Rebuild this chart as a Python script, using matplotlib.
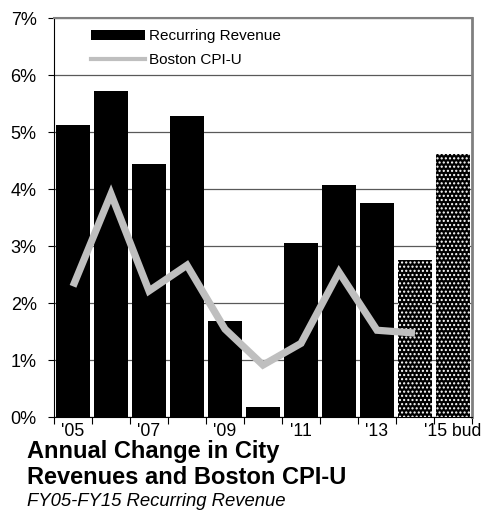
import matplotlib
matplotlib.use("Agg")
import matplotlib.pyplot as plt
from matplotlib.patches import Patch
from matplotlib.lines import Line2D

plt.rcParams['font.family'] = ['Liberation Sans', 'DejaVu Sans']
plt.rcParams['hatch.linewidth'] = 1.0

# Fiscal years FY05..FY15 (FY14 and FY15 budget shown hatched)
years = ['FY05', 'FY06', 'FY07', 'FY08', 'FY09', 'FY10', 'FY11', 'FY12', 'FY13', 'FY14', 'FY15']
recurring_revenue = [5.13, 5.73, 4.45, 5.29, 1.69, 0.19, 3.06, 4.07, 3.76, 2.76, 4.62]
boston_cpi = [2.30, 3.92, 2.22, 2.67, 1.55, 0.92, 1.30, 2.55, 1.53, 1.48]
hatched = [False] * 9 + [True, True]
tick_labels = ["'05", "'07", "'09", "'11", "'13", "'15 bud"]
tick_label_idx = [0, 2, 4, 6, 8, 10]

fig = plt.figure(figsize=(4.83, 5.19), dpi=100)
ax = fig.add_axes([0.1118, 0.1956, 0.8654, 0.7691])

x = list(range(len(years)))
ax.bar(x, recurring_revenue, width=0.89, color='black', linewidth=0, zorder=2)
hx = [i for i, h in zip(x, hatched) if h]
hv = [v for v, h in zip(recurring_revenue, hatched) if h]
ax.bar(hx, hv, width=0.89, facecolor='none', edgecolor='white', hatch='....',
       linewidth=0, zorder=3)

ax.plot(x[:len(boston_cpi)], boston_cpi, color='#bfbfbf', linewidth=5.2,
        solid_joinstyle='miter', solid_capstyle='butt', zorder=4)

ax.set_xlim(-0.5, len(years) - 0.5)
ax.set_ylim(0, 7)
ax.set_yticks(range(0, 8))
ax.set_yticklabels([f'{v}%' for v in range(0, 8)], fontsize=13)
ax.yaxis.grid(True, color='#595959', linewidth=0.9, zorder=0)
ax.set_axisbelow(True)

ax.set_xticks([i - 0.5 for i in range(len(years) + 1)])
ax.set_xticklabels([])
ax.set_xticks(tick_label_idx, minor=True)
ax.set_xticklabels(tick_labels, minor=True, fontsize=12.7)
ax.tick_params(axis='x', which='major', length=5, width=0.8, direction='out')
ax.tick_params(axis='x', which='minor', length=0, pad=4)
ax.tick_params(axis='y', length=4, width=0.8, direction='out', pad=8.5)

ax.spines['left'].set_color('black')
ax.spines['bottom'].set_color('black')
ax.spines['top'].set_color('#808080')
ax.spines['right'].set_color('#808080')
ax.spines['top'].set_linewidth(1.5)
ax.spines['right'].set_linewidth(2)

handles = [Patch(facecolor='black', edgecolor='none'),
           Line2D([0], [0], color='#bfbfbf', linewidth=3)]
ax.legend(handles, ['Recurring Revenue', 'Boston CPI-U'], loc='upper left',
          bbox_to_anchor=(0.088, 0.972), frameon=False, fontsize=11,
          handlelength=3.53, handleheight=0.59, handletextpad=0.3,
          labelspacing=0.6, borderpad=0, borderaxespad=0)

fig.text(0.056, 1 - 458 / 519, 'Annual Change in City', fontsize=17,
         fontweight='bold', ha='left', va='baseline')
fig.text(0.056, 1 - 484 / 519, 'Revenues and Boston CPI-U', fontsize=17,
         fontweight='bold', ha='left', va='baseline')
fig.text(0.056, 1 - 506 / 519, 'FY05-FY15 Recurring Revenue', fontsize=13.3,
         fontstyle='italic', ha='left', va='baseline')

fig.savefig('out.png', dpi=100)
